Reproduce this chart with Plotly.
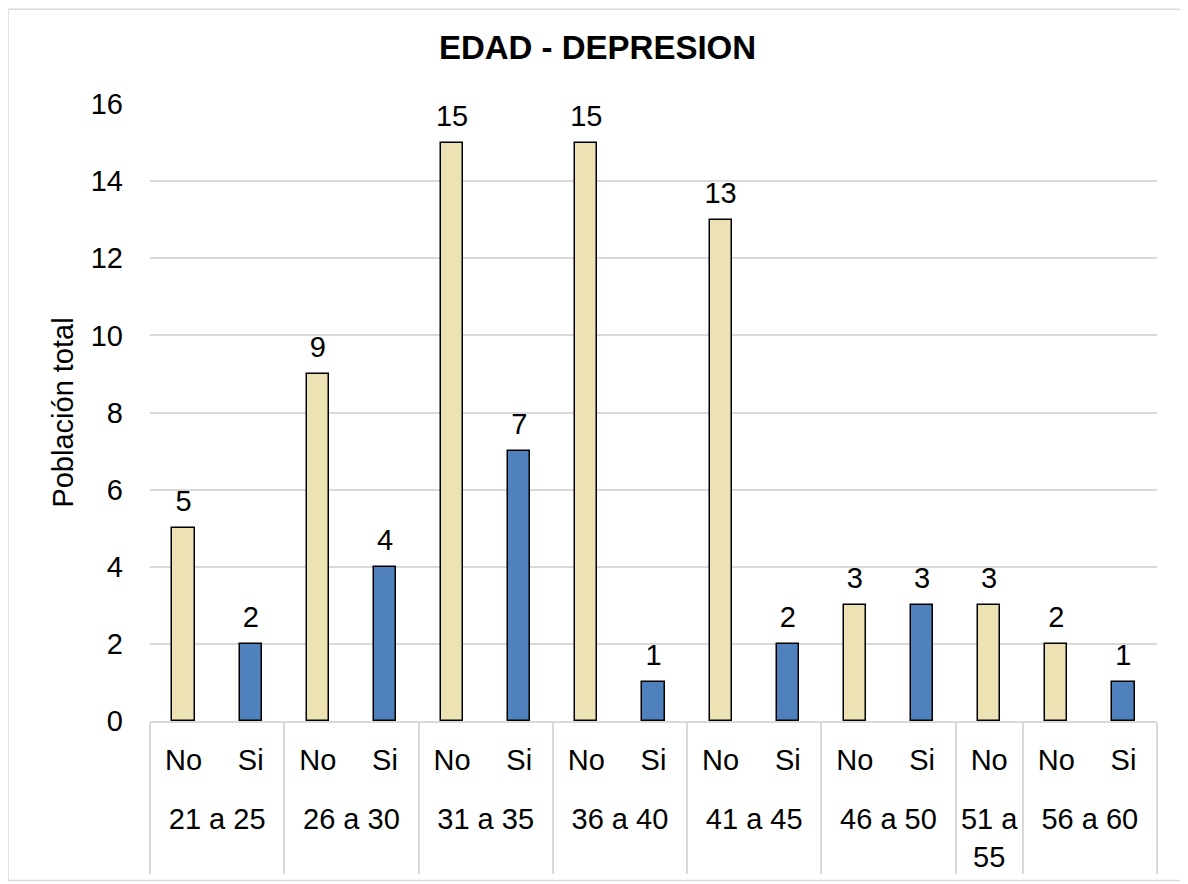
import plotly.graph_objects as go

# data ------------------------------------------------------------------------
edad = ["21 a 25", "21 a 25", "26 a 30", "26 a 30", "31 a 35", "31 a 35",
        "36 a 40", "36 a 40", "41 a 45", "41 a 45", "46 a 50", "46 a 50",
        "51 a<br>55", "56 a 60", "56 a 60"]
depresion = ["No", "Si", "No", "Si", "No", "Si", "No", "Si", "No", "Si",
             "No", "Si", "No", "No", "Si"]
poblacion = [5, 2, 9, 4, 15, 7, 15, 1, 13, 2, 3, 3, 3, 2, 1]

colores = {"No": "#EDE2B4", "Si": "#4F81BD"}
FUENTE = "Liberation Sans, Arial, sans-serif"

# linea vacia arriba para separar el segundo nivel de etiquetas
edad_lbl = ["<br>" + e for e in edad]

fig = go.Figure()
fig.add_trace(go.Bar(
    x=[edad_lbl, depresion], y=poblacion,
    marker=dict(color=[colores[d] for d in depresion],
                line=dict(color="black", width=1.5)),
    width=0.33, hoverinfo="y",
))
# etiquetas de valor (marcador invisible para separar el texto de la barra)
fig.add_trace(go.Scatter(
    x=[edad_lbl, depresion], y=poblacion,
    mode="markers+text", text=poblacion, textposition="top center",
    marker=dict(size=14, opacity=0), cliponaxis=False,
    textfont=dict(size=29, color="black"), hoverinfo="skip",
))

fig.update_layout(
    width=1180, height=876,
    margin=dict(l=142, r=31, t=96, b=161),
    plot_bgcolor="white", paper_bgcolor="white",
    font=dict(family=FUENTE, size=29, color="black"),
    title=dict(text="<b>EDAD - DEPRESION</b>", x=(597.5 - 8) / 1180,
               xanchor="center", y=1 - (47 - 8) / 876, yanchor="middle",
               font=dict(size=33)),
    showlegend=False,
    bargap=0,
)
fig.update_yaxes(range=[0, 16], dtick=2, gridcolor="#D9D9D9", gridwidth=1.5,
                 zeroline=False, showline=False, ticks="",
                 title=dict(text="Población total", standoff=8,
                            font=dict(size=29)),
                 ticklabelstandoff=26, tickfont=dict(size=29))
fig.update_xaxes(type="multicategory", range=[-0.5, len(poblacion) - 0.5],
                 showline=True, linecolor="#D9D9D9",
                 linewidth=1.5, showdividers=True, dividercolor="#D9D9D9",
                 dividerwidth=1.5, ticks="", tickfont=dict(size=29),
                 ticklabelstandoff=12)

# marco exterior
fig.add_shape(type="rect", xref="paper", yref="paper",
              x0=-0.141, x1=1.0258, y0=-0.2585, y1=1.1535,
              line=dict(color="#D9D9D9", width=1.5), layer="below")

fig.write_html("out.html")
